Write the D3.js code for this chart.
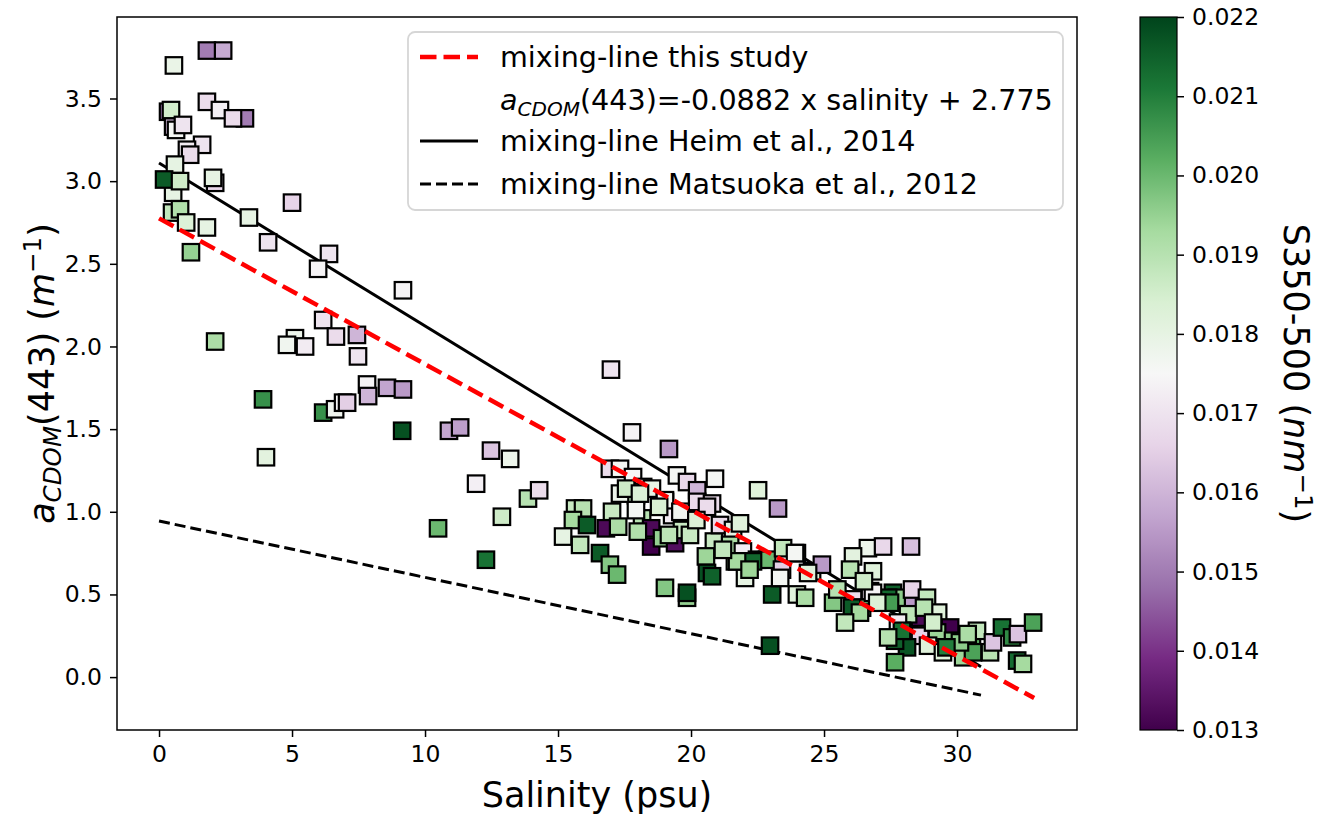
<!DOCTYPE html>
<html><head><meta charset="utf-8">
<script src="https://cdn.jsdelivr.net/npm/d3@7"></script>
<style>body{margin:0;background:#fff}svg{display:block;font-family:"DejaVu Sans",sans-serif}</style>
</head><body><svg id="c" width="1322" height="814"></svg>
<script>
// ---- data ----
const salinity = [1.80,2.41,0.56,0.34,0.45,1.80,2.29,3.23,2.78,0.53,0.64,0.90,1.62,1.05,1.17,0.60,2.11,2.03,0.53,0.19,0.79,0.49,0.79,1.02,1.80,3.38,5.00,4.10,1.20,6.39,5.98,9.17,6.17,6.65,7.44,2.11,5.11,4.81,5.49,7.48,3.91,6.17,6.62,6.92,7.07,7.82,7.86,8.57,9.17,9.14,10.90,11.32,4.02,12.48,13.20,11.92,13.87,12.89,10.49,12.29,14.29,
16.99,17.78,19.17,16.95,17.33,19.47,20.90,19.85,20.23,22.52,23.27,17.82,18.20,17.71,17.93,18.53,19.02,20.23,20.79,19.29,18.16,17.03,17.93,15.64,15.94,15.56,15.19,16.09,16.80,17.26,15.83,16.58,16.95,17.22,18.50,18.50,18.91,19.40,19.66,19.17,19.96,20.86,21.09,21.58,21.84,21.47,21.95,20.56,21.65,20.60,20.79,22.03,19.02,19.85,19.85,23.05,23.98,24.29,22.48,22.86,23.42,23.46,23.98,24.55,24.92,22.97,22.33,23.35,24.40,23.91,25.34,21.73,17.33,17.56,18.08,19.02,20.60,
18.80,19.60,18.00,21.20,22.20,20.20,
26.65,27.22,28.27,26.09,25.98,26.84,26.73,26.09,26.43,27.59,26.05,26.35,25.79,27.74,27.41,28.35,28.31,28.87,29.29,28.61,28.16,27.78,29.74,29.25,28.61,28.91,28.12,27.67,27.67,29.85,30.56,30.75,31.24,31.35,31.69,32.07,32.29,32.86,32.26,32.48,30.23,29.47,30.60,30.11,26.84,
27.48,28.76,27.93,27.41,29.10,30.40,29.60,26.50,27.00,25.50];
const acdom = [3.79,3.79,3.70,3.42,3.43,3.48,3.43,3.38,3.38,3.33,3.31,3.34,3.22,3.19,3.16,3.10,2.99,3.02,2.93,3.01,3.00,2.81,2.83,2.75,2.72,2.78,2.87,2.63,2.57,2.56,2.47,2.34,2.16,2.06,2.07,2.03,2.05,2.01,2.00,1.94,1.68,1.60,1.62,1.66,1.66,1.77,1.70,1.75,1.74,1.49,1.49,1.51,1.33,1.37,1.32,1.17,1.08,0.97,0.90,0.71,1.13,
1.86,1.48,1.38,1.26,1.26,1.22,1.20,1.18,1.13,1.13,1.02,1.21,1.15,1.12,1.10,1.14,1.06,1.06,1.05,0.98,0.96,1.00,1.01,1.02,1.02,0.95,0.85,0.92,0.90,0.91,0.80,0.75,0.68,0.62,0.90,0.79,0.84,0.81,0.89,0.86,0.86,0.82,0.92,0.89,0.93,0.80,0.76,0.73,0.70,0.63,0.61,0.60,0.54,0.48,0.51,0.50,0.50,0.48,0.71,0.71,0.65,0.78,0.75,0.64,0.68,0.19,0.70,0.60,0.63,0.75,0.45,0.70,1.11,1.14,1.11,1.07,1.03,
1.03,1.00,0.88,0.77,0.65,0.95,
0.78,0.79,0.79,0.73,0.65,0.64,0.52,0.47,0.42,0.51,0.42,0.39,0.33,0.48,0.48,0.47,0.53,0.48,0.39,0.36,0.38,0.33,0.30,0.27,0.25,0.19,0.18,0.22,0.09,0.22,0.19,0.28,0.15,0.21,0.30,0.24,0.26,0.33,0.10,0.08,0.12,0.15,0.15,0.21,0.51,
0.45,0.42,0.28,0.24,0.33,0.26,0.18,0.58,0.45,0.53];
const slope350 = [0.0150,0.0158,0.0179,0.0150,0.0185,0.0168,0.0173,0.0150,0.0168,0.0160,0.0176,0.0170,0.0170,0.0172,0.0168,0.0180,0.0167,0.0180,0.0180,0.0216,0.0186,0.0188,0.0191,0.0183,0.0180,0.0180,0.0166,0.0170,0.0195,0.0170,0.0174,0.0174,0.0170,0.0168,0.0160,0.0192,0.0178,0.0177,0.0172,0.0170,0.0207,0.0207,0.0177,0.0175,0.0165,0.0174,0.0160,0.0157,0.0155,0.0218,0.0157,0.0156,0.0181,0.0163,0.0178,0.0173,0.0190,0.0186,0.0200,0.0212,0.0168,
0.0170,0.0174,0.0155,0.0168,0.0176,0.0176,0.0176,0.0167,0.0160,0.0182,0.0155,0.0175,0.0170,0.0185,0.0188,0.0180,0.0177,0.0168,0.0168,0.0172,0.0190,0.0187,0.0176,0.0187,0.0190,0.0193,0.0180,0.0216,0.0132,0.0192,0.0188,0.0216,0.0197,0.0200,0.0132,0.0130,0.0195,0.0133,0.0187,0.0189,0.0187,0.0187,0.0168,0.0180,0.0182,0.0192,0.0172,0.0194,0.0190,0.0218,0.0215,0.0180,0.0197,0.0195,0.0218,0.0216,0.0182,0.0192,0.0216,0.0200,0.0165,0.0188,0.0187,0.0183,0.0155,0.0218,0.0214,0.0176,0.0182,0.0176,0.0197,0.0193,0.0178,0.0186,0.0183,0.0176,0.0168,
0.0184,0.0177,0.0191,0.0188,0.0194,0.0183,
0.0178,0.0167,0.0162,0.0181,0.0190,0.0182,0.0168,0.0168,0.0200,0.0215,0.0216,0.0193,0.0188,0.0196,0.0214,0.0155,0.0166,0.0188,0.0182,0.0132,0.0189,0.0172,0.0130,0.0194,0.0166,0.0182,0.0217,0.0215,0.0202,0.0196,0.0202,0.0188,0.0190,0.0163,0.0212,0.0208,0.0163,0.0204,0.0213,0.0193,0.0194,0.0182,0.0204,0.0196,0.0174,
0.0205,0.0190,0.0212,0.0190,0.0185,0.0192,0.0210,0.0186,0.0183,0.0190];

// mixing lines: [salinity, aCDOM] endpoints
const lineThisStudy = [[0, 2.775], [32.9, -0.127]];
const lineHeim = [[0, 3.11], [30.9, 0.063]];
const lineMatsuoka = [[0, 0.944], [30.9, -0.109]];

const xTicks = [0, 5, 10, 15, 20, 25, 30];
const yTicks = [0.0, 0.5, 1.0, 1.5, 2.0, 2.5, 3.0, 3.5];
const cTicks = [0.013, 0.014, 0.015, 0.016, 0.017, 0.018, 0.019, 0.020, 0.021, 0.022];
const legendLabels = ["mixing-line this study", "eq", "mixing-line Heim et al., 2014", "mixing-line Matsuoka et al., 2012"];
// PRGn colour stops (ColorBrewer, linearly interpolated as in matplotlib)
const prgnColors = ["#40004b","#762a83","#9970ab","#c2a5cf","#e7d4e8","#f7f7f7","#d9f0d3","#a6dba0","#5aae61","#1b7837","#00441b"];

// ---- layout ----
const svg = d3.select("#c");
const L = 117, R = 1077, T = 17, B = 730;
const x = d3.scaleLinear().domain([-1.58, 34.51]).range([L, R]);
const y = d3.scaleLinear().domain([-0.32, 3.993]).range([B, T]);
const vmin = 0.013, vmax = 0.022;
const color = d3.scaleLinear()
  .domain(prgnColors.map((c, i) => vmin + (vmax - vmin) * i / (prgnColors.length - 1)))
  .range(prgnColors).interpolate(d3.interpolateRgb).clamp(true);

const tickFont = 23.5, labFont = 35, legFont = 28.6;

// clip
svg.append("clipPath").attr("id", "clip").append("rect")
  .attr("x", L).attr("y", T).attr("width", R - L).attr("height", B - T);
const plot = svg.append("g").attr("clip-path", "url(#clip)");

// lines
const line = d3.line().x(d => x(d[0])).y(d => y(d[1]));
plot.append("path").attr("d", line(lineHeim)).attr("fill", "none").attr("stroke", "#000").attr("stroke-width", 3);
plot.append("path").attr("d", line(lineMatsuoka)).attr("fill", "none").attr("stroke", "#000").attr("stroke-width", 3).attr("stroke-dasharray", "11,5");

// points
const sq = 16.5;
plot.append("g").selectAll("rect").data(d3.range(salinity.length)).join("rect")
  .attr("x", i => x(salinity[i]) - sq / 2)
  .attr("y", i => y(acdom[i]) - sq / 2)
  .attr("width", sq).attr("height", sq)
  .attr("fill", i => color(slope350[i]))
  .attr("stroke", "#000").attr("stroke-width", 2.2);

// red line on top
plot.append("path").attr("d", line(lineThisStudy)).attr("fill", "none").attr("stroke", "#ff0000").attr("stroke-width", 4.5).attr("stroke-dasharray", "16.5,7");

// axes frame
svg.append("rect").attr("x", L).attr("y", T).attr("width", R - L).attr("height", B - T)
  .attr("fill", "none").attr("stroke", "#000").attr("stroke-width", 1.5);

// x axis
const xa = svg.append("g").attr("transform", `translate(0,${B})`)
  .call(d3.axisBottom(x).tickValues(xTicks).tickSize(7).tickPadding(8).tickFormat(d3.format("d")));
xa.select(".domain").remove();
xa.selectAll("line").attr("stroke-width", 1.5);
xa.selectAll("text").attr("font-size", tickFont).attr("font-family", "DejaVu Sans").attr("fill", "#000");

// y axis
const ya = svg.append("g").attr("transform", `translate(${L},0)`)
  .call(d3.axisLeft(y).tickValues(yTicks).tickSize(7).tickPadding(8).tickFormat(d3.format(".1f")));
ya.select(".domain").remove();
ya.selectAll("line").attr("stroke-width", 1.5);
ya.selectAll("text").attr("font-size", tickFont).attr("font-family", "DejaVu Sans").attr("fill", "#000");

// axis labels
svg.append("text").attr("x", (L + R) / 2).attr("y", 807).attr("text-anchor", "middle")
  .attr("font-size", labFont).text("Salinity (psu)");

const yl = svg.append("text").attr("transform", `translate(54,${(T + B) / 2}) rotate(-90)`)
  .attr("text-anchor", "middle").attr("font-size", labFont);
yl.append("tspan").attr("font-style", "italic").text("a");
yl.append("tspan").attr("font-style", "italic").attr("font-size", labFont * 0.7).attr("dy", 7).text("CDOM");
yl.append("tspan").attr("dy", -7).text("(443) (");
yl.append("tspan").attr("font-style", "italic").text("m");
yl.append("tspan").attr("font-size", labFont * 0.7).attr("dy", -13).text("\u22121");
yl.append("tspan").attr("dy", 13).text(")");

// legend
const lg = svg.append("g");
lg.append("rect").attr("x", 408).attr("y", 32).attr("width", 655).attr("height", 178).attr("rx", 7)
  .attr("fill", "#fff").attr("fill-opacity", 0.8).attr("stroke", "#d6d6d6").attr("stroke-width", 1.8);
const rowY = [57, 100, 141, 184];
lg.append("line").attr("x1", 420).attr("x2", 478).attr("y1", rowY[0]).attr("y2", rowY[0])
  .attr("stroke", "#ff0000").attr("stroke-width", 4.5).attr("stroke-dasharray", "16.5,7");
lg.append("line").attr("x1", 420).attr("x2", 478).attr("y1", rowY[2]).attr("y2", rowY[2])
  .attr("stroke", "#000").attr("stroke-width", 3);
lg.append("line").attr("x1", 420).attr("x2", 478).attr("y1", rowY[3]).attr("y2", rowY[3])
  .attr("stroke", "#000").attr("stroke-width", 3).attr("stroke-dasharray", "11,5");
[0, 2, 3].forEach(i => {
  lg.append("text").attr("x", 500).attr("y", rowY[i] + 10).attr("font-size", legFont).text(legendLabels[i]);
});
const eq = lg.append("text").attr("x", 500).attr("y", rowY[1] + 10).attr("font-size", legFont);
eq.append("tspan").attr("font-style", "italic").text("a");
eq.append("tspan").attr("font-style", "italic").attr("font-size", legFont * 0.7).attr("dy", 6).text("CDOM");
eq.append("tspan").attr("dy", -6).text("(443)=-0.0882 x salinity + 2.775");

// colorbar
const CL = 1140, CW = 37;
const cy = d3.scaleLinear().domain([vmin, vmax]).range([B, T]);
const grad = svg.append("defs").append("linearGradient").attr("id", "cg")
  .attr("x1", 0).attr("y1", 1).attr("x2", 0).attr("y2", 0);
d3.range(0, 1.0001, 0.02).forEach(t => {
  grad.append("stop").attr("offset", t).attr("stop-color", color(vmin + t * (vmax - vmin)));
});
svg.append("rect").attr("x", CL).attr("y", T).attr("width", CW).attr("height", B - T)
  .attr("fill", "url(#cg)").attr("stroke", "#000").attr("stroke-width", 1.2);
const ca = svg.append("g").attr("transform", `translate(${CL + CW},0)`)
  .call(d3.axisRight(cy).tickValues(cTicks).tickSize(7).tickPadding(8).tickFormat(d3.format(".3f")));
ca.select(".domain").remove();
ca.selectAll("line").attr("stroke-width", 1.5);
ca.selectAll("text").attr("font-size", tickFont).attr("font-family", "DejaVu Sans").attr("fill", "#000");

const cl = svg.append("text").attr("transform", `translate(1284,${(T + B) / 2}) rotate(90)`)
  .attr("text-anchor", "middle").attr("font-size", labFont);
cl.append("tspan").text("S350-500 (");
cl.append("tspan").attr("font-style", "italic").text("nm");
cl.append("tspan").attr("font-size", labFont * 0.7).attr("dy", -11).text("\u22121");
cl.append("tspan").attr("dy", 11).text(")");
</script></body></html>
